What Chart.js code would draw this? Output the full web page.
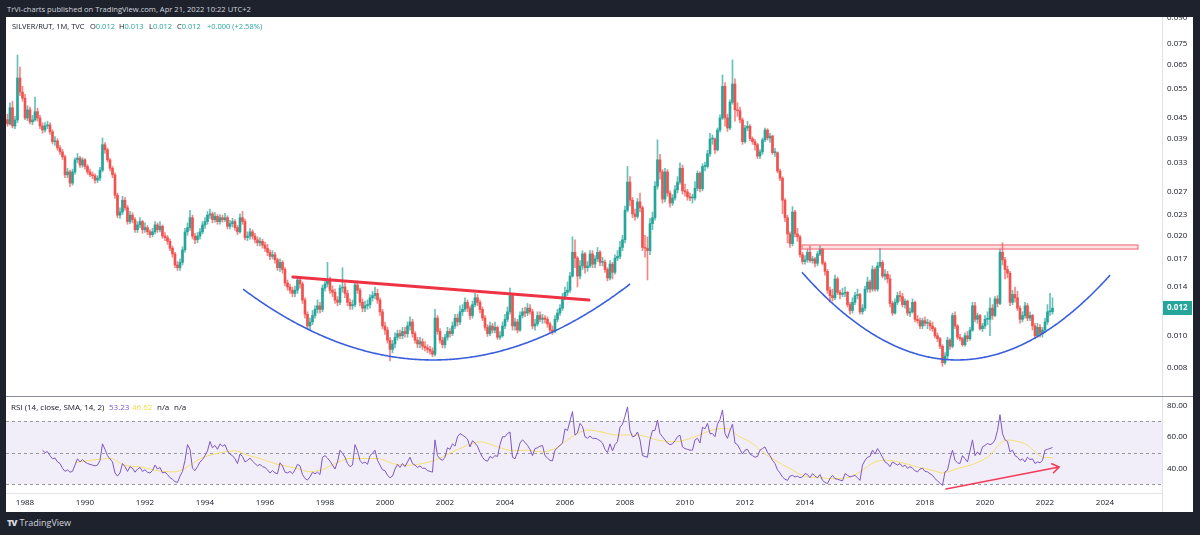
<!DOCTYPE html>
<html>
<head>
<meta charset="utf-8">
<title>SILVER/RUT, 1M</title>
<script src="https://cdn.jsdelivr.net/npm/chart.js@4.4.1/dist/chart.umd.min.js"></script>
<style>
  html, body { margin: 0; padding: 0; }
  body { width: 1200px; height: 535px; background: #1e222d; position: relative; overflow: hidden;
         font-family: "Open Sans", "Noto Sans", sans-serif; }
  .abs { position: absolute; white-space: nowrap; }
  #panel { left: 6px; top: 17px; width: 1187px; height: 495px; background: #fff; }
  #sep { left: 6px; top: 396px; width: 1187px; height: 1px; background: #8c8f99; }
  #head { left: 7px; top: 3px; font-size: 7.6px; line-height: 12px; color: #d1d4dc; }
  .leg { font-size: 7.5px; line-height: 12px; color: #131722; }
  .rleg { font-size: 8px; line-height: 12px; color: #131722; }
  .up { color: #26a69a; }
  .foot { left: 7px; top: 517px; font-size: 9px; line-height: 12px; color: #d1d4dc; }
  .foot b { font-weight: 800; margin-right: 3px; letter-spacing: -1px; }
</style>
</head>
<body>
<div id="panel" class="abs"></div>
<canvas id="cPrice" class="abs" width="1187" height="380" style="left:6px;top:17px"></canvas>
<canvas id="cRsi" class="abs" width="1187" height="115" style="left:6px;top:397px"></canvas>
<div id="sep" class="abs"></div>

<div id="head" class="abs">TrVi-charts published on TradingView.com, Apr 21, 2022 10:22 UTC+2</div>

<div class="abs leg" style="left:12px;top:20px">SILVER/RUT, 1M, TVC</div>
<div class="abs leg" style="left:90px;top:20px">O<span class="up">0.012</span></div>
<div class="abs leg" style="left:119px;top:20px">H<span class="up">0.013</span></div>
<div class="abs leg" style="left:149px;top:20px">L<span class="up">0.012</span></div>
<div class="abs leg" style="left:177px;top:20px">C<span class="up">0.012</span></div>
<div class="abs leg up" style="left:207px;top:20px">+0.000 (+2.58%)</div>

<div class="abs rleg" style="left:11px;top:401px">RSI (14, close, SMA, 14, 2)</div>
<div class="abs rleg" style="left:109px;top:401px;color:#7e57c2">53.23</div>
<div class="abs rleg" style="left:132px;top:401px;color:#f2d94e">46.62</div>
<div class="abs rleg" style="left:157px;top:401px">n/a</div>
<div class="abs rleg" style="left:174px;top:401px">n/a</div>

<div class="abs foot"><b>TV</b>TradingView</div>

<script>
// monthly SILVER/RUT candles, Jun 1987 .. Apr 2022, prices in units of 0.0001
const UNIT = 1e-4;
const firstOpen = 445;

const closes = [
  432, 483, 426, 444, 593, 538, 516,                                   // 1987 Jun-Dec
  450, 476, 438, 444, 470, 450, 426, 414, 426, 429, 409, 382,          // 1988
  384, 366, 356, 344, 304, 310, 287, 310, 337, 341, 325, 337,          // 1989
  322, 310, 304, 302, 293, 297, 314, 374, 361, 337, 318, 304,          // 1990
  264, 230, 235, 255, 242, 220, 230, 223, 208, 215, 220, 208,          // 1991
  211, 205, 201, 205, 215, 208, 213, 199, 197, 192, 183, 176,          // 1992
  163, 160, 166, 181, 205, 211, 226, 199, 194, 199, 205, 215,          // 1993
  220, 230, 232, 223, 228, 220, 226, 223, 226, 213, 217, 220,          // 1994
  211, 205, 226, 220, 197, 199, 205, 199, 194, 190, 192, 187,          // 1995
  183, 178, 173, 175, 169, 160, 166, 158, 144, 140, 137, 134,          // 1996
  137, 147, 143, 128, 116, 107, 110, 115, 120, 123, 120, 139,          // 1997
  143, 147, 137, 135, 128, 126, 139, 140, 134, 126, 123, 124,          // 1998
  142, 137, 126, 121, 123, 124, 130, 132, 134, 128, 118, 107,          // 1999
  104, 97, 91, 94.5, 99, 101.5, 100, 103, 101.5, 107, 110, 101.5,      // 2000
  97, 94.5, 96, 93, 92, 91, 90, 88, 113, 103, 97, 94,                  // 2001
  99, 103, 101.5, 107, 113, 110, 118, 120, 126, 121, 115, 124,         // 2002
  130, 126, 120, 113, 106, 101.5, 107, 104, 106, 99, 100, 107,         // 2003
  112, 118, 132, 107, 110, 104, 115, 118, 117, 121, 118, 107,          // 2004
  108.5, 115, 112, 113, 112, 108.5, 104, 103, 112, 117, 121, 130,      // 2005
  135, 137, 151, 178, 171, 151, 162, 176, 160, 162, 176, 164,          // 2006
  170, 178, 166, 166, 158, 149, 164, 155, 171, 173, 184, 194,          // 2007
  238, 289, 255, 232, 228, 252, 242, 184, 183, 180, 217, 226,          // 2008
  281, 337, 310, 257, 310, 268, 250, 259, 274, 289, 318, 272,          // 2009
  270, 261, 259, 259, 277, 307, 276, 322, 322, 351, 389, 389,          // 2010
  361, 414, 450, 560, 450, 420, 502, 569, 476, 473, 444, 382,          // 2011
  420, 425, 390, 382, 374, 346, 356, 387, 414, 392, 397, 354,          // 2012
  354, 312, 297, 255, 226, 202, 189, 235, 202, 198, 175, 167,          // 2013
  169, 178, 168, 170, 165, 176, 182, 165, 156, 137, 132, 130,          // 2014
  148, 135, 133, 134, 135, 124, 119, 126, 132, 133, 118, 121,          // 2015
  138, 145, 138, 158, 138, 162, 166, 151, 153, 148, 125, 117,          // 2016
  126, 132, 131, 124, 127, 117, 118, 126, 112, 111, 107, 111,          // 2017
  109, 109, 107, 105, 100, 98, 93, 83, 87, 97, 93, 115,                // 2018
  107, 99, 98, 94, 100, 98, 104, 123, 112, 115, 105, 107,              // 2019
  112, 112, 121, 115, 129, 125, 178, 169, 158, 154, 126, 133,          // 2020
  130, 121, 112, 115, 123, 113, 115, 107, 100, 106, 101.5, 104,        // 2021
  110, 118, 118, 121                                                   // 2022 Jan-Apr
];

const highs = [
  462, 500, 505, 455, 695, 640, 560,
  530, 490, 485, 458, 520, 482, 458, 435, 436, 440, 435, 415,
  396, 390, 372, 362, 348, 318, 314, 316, 342, 352, 345, 342,
  340, 326, 316, 310, 306, 302, 320, 392, 380, 366, 340, 322,
  308, 268, 242, 262, 260, 246, 236, 234, 226, 220, 226, 222,
  218, 214, 208, 210, 220, 218, 220, 215, 204, 200, 195, 186,
  178, 167, 170, 185, 210, 218, 238, 230, 203, 204, 210, 220,
  226, 236, 240, 235, 234, 231, 231, 230, 233, 229, 222, 225,
  223, 214, 232, 236, 224, 205, 210, 208, 203, 198, 197, 195,
  191, 188, 181, 180, 178, 171, 170, 168, 160, 147, 143, 140,
  141, 151, 150, 145, 130, 118, 113, 119, 123, 128, 126, 142,
  148, 166, 150, 141, 138, 131, 142, 160, 144, 137, 129, 128,
  146, 146, 139, 129, 127, 128, 133, 136, 140, 138, 130, 120,
  110, 106, 99, 97, 102, 104, 104, 106, 106, 110, 114, 112,
  103, 99, 99, 98, 96, 94, 93, 92, 120, 115, 105, 99,
  101, 106, 105, 110, 116, 116, 123, 124, 130, 128, 123, 127,
  134, 133, 128, 122, 115, 108, 110, 109, 110, 107, 103, 110,
  116, 122, 139, 134, 113, 112, 118, 121, 122, 125, 124, 120,
  112, 118, 118, 116, 115, 114, 110, 107, 115, 120, 124, 134,
  140, 145, 155, 198, 194, 173, 168, 180, 178, 167, 180, 180,
  174, 184, 180, 172, 169, 160, 168, 166, 175, 180, 192, 200,
  245, 322, 300, 260, 240, 258, 268, 245, 200, 198, 225, 235,
  290, 387, 350, 315, 318, 315, 272, 265, 282, 300, 330, 325,
  285, 275, 268, 266, 290, 312, 310, 328, 332, 360, 405, 400,
  392, 420, 460, 606, 575, 462, 510, 672, 590, 500, 485, 450,
  428, 440, 430, 395, 388, 378, 362, 392, 420, 418, 405, 400,
  365, 356, 316, 300, 258, 230, 205, 244, 238, 210, 200, 178,
  174, 182, 186, 173, 172, 179, 186, 183, 167, 158, 140, 138,
  152, 150, 137, 139, 140, 136, 126, 130, 135, 138, 134, 124,
  141, 150, 147, 162, 160, 166, 183, 168, 158, 156, 152, 127,
  129, 135, 136, 134, 129, 128, 121, 129, 127, 115, 113, 113,
  114, 112, 111, 110, 106, 102, 99, 94, 89, 99, 98, 117,
  118, 108, 101, 99, 102, 103, 106, 126, 126, 117, 116, 109,
  115, 118, 130, 124, 131, 132, 182, 190, 172, 162, 156, 137,
  140, 136, 123, 118, 126, 125, 118, 116, 109, 109, 108, 106,
  113, 124, 134, 130
];

const lows = [
  425, 428, 420, 418, 436, 525, 505,
  445, 442, 432, 430, 440, 440, 418, 405, 408, 418, 402, 376,
  372, 360, 350, 338, 298, 298, 280, 283, 305, 330, 320, 320,
  316, 305, 300, 296, 287, 288, 292, 310, 352, 332, 312, 298,
  258, 226, 225, 231, 238, 216, 217, 218, 204, 204, 211, 203,
  204, 201, 197, 198, 202, 204, 205, 196, 193, 188, 180, 172,
  160, 157, 157, 163, 178, 200, 207, 195, 189, 190, 195, 202,
  210, 216, 225, 218, 219, 216, 216, 219, 220, 209, 209, 212,
  207, 201, 203, 216, 194, 193, 195, 195, 190, 186, 186, 183,
  179, 174, 169, 170, 165, 157, 156, 154, 141, 137, 134, 131,
  131, 134, 139, 125, 113, 105, 104, 108, 113, 117, 117, 118,
  136, 140, 134, 131, 125, 123, 124, 135, 130, 123, 120, 120,
  122, 134, 123, 118, 118, 120, 121, 127, 129, 125, 115, 105,
  101, 95, 84, 89, 92, 97, 98, 98, 99, 99, 104, 99,
  95, 92, 92, 91, 90, 89, 88, 86.5, 87, 101, 95, 92,
  92, 97, 99, 100, 105, 107, 108, 115, 118, 118, 112, 113,
  122, 123, 117, 111, 104, 99.5, 100, 102, 102, 97.5, 97.5, 99,
  105, 110, 116, 104, 104, 102, 103, 113, 114, 115, 116, 105,
  104, 107, 110, 109, 109, 106, 102, 101, 102, 110, 115, 119,
  128, 132, 135, 150, 160, 140, 148, 158, 154, 156, 160, 160,
  160, 167, 162, 162, 155, 146, 147, 148, 153, 168, 170, 180,
  190, 235, 245, 226, 222, 225, 235, 180, 172, 147, 175, 208,
  222, 275, 295, 250, 252, 262, 243, 246, 255, 268, 285, 266,
  262, 255, 254, 250, 255, 272, 270, 272, 312, 318, 345, 375,
  352, 358, 408, 445, 425, 410, 415, 495, 440, 455, 435, 375,
  378, 412, 385, 375, 360, 340, 340, 350, 382, 386, 380, 350,
  345, 308, 292, 232, 220, 190, 184, 186, 198, 192, 172, 164,
  164, 166, 166, 165, 161, 162, 174, 163, 152, 134, 126, 127,
  128, 133, 129, 131, 131, 122, 116, 117, 124, 129, 116, 116,
  119, 135, 135, 136, 136, 136, 160, 149, 147, 144, 122, 115,
  116, 124, 127, 122, 121, 115, 114, 117, 110, 109, 105, 105,
  107, 105, 104, 103, 98.5, 96, 91.5, 81, 82, 85, 91, 92,
  105, 97.5, 96.5, 93, 93, 96, 97, 103, 110, 109, 104, 103,
  105, 108, 100, 112, 114, 122, 124, 163, 148, 149, 123, 124,
  126, 119, 109, 110, 113, 111, 111, 104, 98, 99, 99, 99,
  102, 108, 115, 116
];

// RSI(14) monthly, Aug 1988 .. Apr 2022
const rsiValues = [
  51.5, 50, 50.5, 48, 46,                                              // 1988 Aug-Dec
  46.5, 44, 43, 40, 38, 39, 37.5, 38, 42, 46, 44, 45.5,
  44, 43, 42.5, 42, 41.5, 42, 45, 55.5, 52, 48, 46, 44,
  37, 35, 37, 43, 41, 38, 41, 40, 37.5, 39.5, 40.5, 38,
  39, 37.5, 37, 38.5, 42, 39.5, 40.5, 37, 37.5, 36, 34, 33,
  31.5, 31, 35, 38, 45, 55, 52, 40, 38.5, 41, 44, 45.5,
  48, 51, 57, 53, 54.5, 52, 55.5, 54, 55, 51, 49, 48,
  46, 43, 49, 47.5, 44, 45, 46.5, 44.5, 43, 41.5, 42.5, 41,
  40.5, 39, 37, 38.5, 37, 36.5, 43.5, 41.5, 37.5, 37, 38, 36.5,
  39, 42.5, 41.5, 36, 33.5, 32.5, 34.5, 37.5, 36.5, 37.5, 36, 47,
  48, 46.5, 44.5, 42, 39.5, 44, 51.5, 49.5, 47, 43, 41, 42,
  55, 51, 45, 43, 44, 42.5, 48, 49.5, 51.5, 45, 42, 39,
  38.5, 35.5, 34, 35, 39.5, 42.5, 40.5, 43, 41, 44, 47, 43,
  42, 40.5, 41.5, 40, 40, 38.5, 38, 37.5, 58, 48, 46, 45,
  47, 53, 52, 55.5, 54, 60, 62, 61, 60, 58.5, 53.5, 57.5,
  56, 54, 50, 47, 45, 44.5, 47.5, 46.5, 48, 47.5, 55, 60,
  60, 62, 63, 47, 46, 50, 56, 58, 56.5, 54.5, 52, 48,
  52.5, 53, 54, 54.5, 48, 46.5, 45, 44.7, 51.5, 53, 54.5, 56,
  65, 64, 70, 76, 61, 62.5, 68.5, 66.5, 60, 59, 60.5, 59,
  59, 58.5, 57.5, 56, 52, 50, 55.5, 51, 55, 57, 66, 68,
  73, 79, 64, 60, 60.5, 63, 58, 48, 47.5, 47, 58, 64,
  64, 70.5, 62, 60, 58, 56, 55, 55.5, 57.5, 60, 61, 53.5,
  52.5, 52, 51.5, 51.5, 58, 59, 56, 66, 65, 68.5, 62, 62,
  60, 68, 71, 77, 62, 59, 64, 68, 56, 55, 52, 49,
  51.5, 52, 49, 48, 47, 47.5, 51.5, 52.5, 53.6, 50, 48, 45,
  43, 39, 37, 34.5, 33, 32.3, 35, 35.5, 34.5, 35, 34, 34.5,
  36.6, 36, 34, 36.6, 35, 34, 36, 32.3, 31, 30.2, 33.5, 35.5,
  33.4, 33, 32.5, 32, 36.6, 35.5, 34.5, 35, 35.5, 34, 32.3, 42,
  45, 47, 47.5, 51.5, 49, 52.5, 50, 47, 44, 43, 41, 44,
  43, 42, 43, 41, 42, 40, 41, 40, 38.5, 37.7, 39.5, 40,
  38, 37.7, 36.5, 35.5, 33.4, 32, 30.5, 29.1, 37.7, 38.7, 46, 51.5,
  45, 43.5, 43, 48, 46, 44, 51, 58, 48, 50.4, 48.5, 53.6,
  54.5, 55.7, 55, 55.7, 58, 64, 74, 62, 58, 57, 50.4, 51.5,
  48, 47, 45, 46, 44, 47, 45.5, 46, 43, 44, 43.5, 45,
  51.5, 52, 52.5, 53.23
];

// SMA(14) of RSI, read at these months
const smaDates = ['1989-09','1990-11','1991-05','1991-11','1992-05','1993-01','1993-06','1993-10','1994-03','1994-09',
  '1995-01','1995-06','1995-11','1996-05','1997-02','1997-07','1998-01','1998-05','1998-11','1999-06',
  '1999-10','2000-04','2000-10','2001-04','2001-09','2002-04','2002-12','2003-03','2003-10','2004-04',
  '2004-10','2005-04','2005-09','2006-01','2006-06','2006-10','2007-03','2007-10','2008-06','2009-02',
  '2009-09','2010-05','2010-12','2011-05','2011-11','2012-04','2012-08','2013-01','2013-07','2014-01',
  '2014-07','2015-01','2015-06','2015-11','2016-05','2016-10','2017-05','2017-11','2018-04','2018-08',
  '2019-02','2019-09','2020-03','2020-07','2020-10','2021-01','2021-06','2021-09','2021-12','2022-04'];
const smaValues = [43.6, 46.2, 41.9, 40.9, 38.7, 37.7, 40.9, 45.1, 48.3, 50.4,
  51.1, 48.3, 46.2, 43, 39.8, 37.7, 39.8, 43, 46.2, 46.2,
  46.2, 43, 41.9, 43, 45.1, 50.4, 55.7, 56.8, 53.6, 51.1,
  51.5, 50.4, 52.6, 56.8, 62.1, 64.3, 63.2, 61.1, 61.1, 57.9,
  56.8, 60, 64.3, 65.3, 60, 55.7, 50.4, 45.1, 39.8, 34.9,
  34, 33.4, 34, 37.7, 44, 45.1, 43, 40.4, 38.7, 37,
  39.8, 43, 48.3, 55.7, 57.9, 57.4, 54.7, 50.4, 47.2, 46.62];

const priceTicks = [0.008, 0.010, 0.014, 0.017, 0.020, 0.023, 0.027, 0.033, 0.039, 0.045, 0.055, 0.065, 0.075, 0.090];
const rsiTicks = [40, 60, 80];
const yearTicks = [1988, 1990, 1992, 1994, 1996, 1998, 2000, 2002, 2004, 2006, 2008, 2010,
  2012, 2014, 2016, 2018, 2020, 2022, 2024];

// hand drawings on the chart, in (time, price) / (time, rsi)
const neckline = [[1996.93, 0.0150], [2006.8, 0.0128]];
const cupLeft = { start: [1995.27, 0.0138], bottom: [2001.6, 0.00846], end: [2008.17, 0.0143] };
const cupRight = { start: [2013.9, 0.0155], bottom: [2019.07, 0.00846], end: [2024.17, 0.0152] };
const zone = { t0: 2013.9, t1: 2025.1, p0: 0.0182, p1: 0.01872 };
const rsiArrow = [[2018.7, 26.8], [2022.47, 40.8]];

const FONT = '"Open Sans", "Noto Sans", sans-serif';
const T_MIN = 1987.367, T_MAX = 2025.9;
const UP = '#26a69a', DOWN = '#ef5350';

const monthTime = (y0, m0, i) => y0 + (m0 + i) / 12;

const candles = closes.map((c, i) => {
  const o = i === 0 ? firstOpen : closes[i - 1];
  return {
    t: monthTime(1987, 5, i),
    o: o * UNIT, c: c * UNIT,
    h: Math.max(highs[i], o, c) * UNIT,
    l: Math.min(lows[i], o, c) * UNIT
  };
});

const px = (scale, v) => scale.getPixelForValue(v);

// keep the plot area flush with the canvas edges (no room kept for edge labels)
function noPadding(s) {
  s.paddingTop = 0;
  s.paddingBottom = 0;
  s.paddingLeft = 0;
  s.paddingRight = 0;
}

function drawCup(ctx, x, y, cup) {
  const x0 = px(x, cup.start[0]), y0 = px(y, cup.start[1]);
  const xv = px(x, cup.bottom[0]), yv = px(y, cup.bottom[1]);
  const x1 = px(x, cup.end[0]), y1 = px(y, cup.end[1]);
  const aL = (yv - y0) / Math.pow(x0 - xv, 2);
  const aR = (yv - y1) / Math.pow(x1 - xv, 2);
  ctx.beginPath();
  ctx.moveTo(x0, y0);
  for (let p = x0 + 1; p < x1; p += 1) {
    const a = p < xv ? aL : aR;
    ctx.lineTo(p, yv - a * Math.pow(p - xv, 2));
  }
  ctx.lineTo(x1, y1);
  ctx.stroke();
}

const drawingsPlugin = {
  id: 'drawings',
  afterDatasetsDraw(chart) {
    const { ctx, chartArea: a, scales: { x, y } } = chart;
    ctx.save();
    ctx.beginPath();
    ctx.rect(a.left, a.top, a.right - a.left, a.bottom - a.top);
    ctx.clip();

    // resistance zone
    const zx0 = px(x, zone.t0), zx1 = px(x, zone.t1);
    const zy0 = px(y, zone.p1), zy1 = px(y, zone.p0);
    ctx.fillStyle = 'rgba(242, 54, 69, 0.15)';
    ctx.fillRect(zx0, zy0, zx1 - zx0, zy1 - zy0);
    ctx.strokeStyle = '#f0616f';
    ctx.lineWidth = 1;
    ctx.strokeRect(zx0, zy0, zx1 - zx0, zy1 - zy0);

    // cups
    ctx.strokeStyle = '#3a5fdc';
    ctx.lineWidth = 1.6;
    drawCup(ctx, x, y, cupLeft);
    drawCup(ctx, x, y, cupRight);

    // neckline
    ctx.strokeStyle = '#ee3344';
    ctx.lineWidth = 3;
    ctx.lineCap = 'round';
    ctx.beginPath();
    ctx.moveTo(px(x, neckline[0][0]), px(y, neckline[0][1]));
    ctx.lineTo(px(x, neckline[1][0]), px(y, neckline[1][1]));
    ctx.stroke();
    ctx.restore();

    // last price tag on the axis
    const last = candles[candles.length - 1];
    const ly = Math.round(px(y, last.c));
    ctx.save();
    ctx.fillStyle = UP;
    ctx.fillRect(a.right + 1, ly - 7, 29, 14);
    ctx.fillStyle = '#ffffff';
    ctx.font = 'bold 8px ' + FONT;
    ctx.textBaseline = 'middle';
    ctx.fillText(last.c.toFixed(3), a.right + 5, ly);
    ctx.restore();
  }
};

const rsiPlugin = {
  id: 'rsiBand',
  beforeDatasetsDraw(chart) {
    const { ctx, chartArea: a, scales: { y } } = chart;
    const y70 = px(y, 70), y50 = px(y, 50), y30 = px(y, 30);
    ctx.save();
    ctx.fillStyle = 'rgba(126, 87, 194, 0.1)';
    ctx.fillRect(a.left, y70, a.right - a.left, y30 - y70);
    ctx.strokeStyle = '#9598a1';
    ctx.lineWidth = 1;
    ctx.setLineDash([3, 3]);
    [y70, y50, y30].forEach(v => {
      ctx.beginPath();
      ctx.moveTo(a.left, Math.round(v) + 0.5);
      ctx.lineTo(a.right, Math.round(v) + 0.5);
      ctx.stroke();
    });
    ctx.restore();
  },
  afterDatasetsDraw(chart) {
    const { ctx, scales: { x, y } } = chart;
    const x0 = px(x, rsiArrow[0][0]), y0 = px(y, rsiArrow[0][1]);
    const x1 = px(x, rsiArrow[1][0]), y1 = px(y, rsiArrow[1][1]);
    const ang = Math.atan2(y1 - y0, x1 - x0);
    ctx.save();
    ctx.strokeStyle = '#f23c5a';
    ctx.lineWidth = 1.6;
    ctx.lineCap = 'round';
    ctx.beginPath();
    ctx.moveTo(x0, y0);
    ctx.lineTo(x1, y1);
    ctx.moveTo(x1 - 8 * Math.cos(ang - 0.6), y1 - 8 * Math.sin(ang - 0.6));
    ctx.lineTo(x1, y1);
    ctx.lineTo(x1 - 8 * Math.cos(ang + 0.6), y1 - 8 * Math.sin(ang + 0.6));
    ctx.stroke();
    ctx.restore();
  },
  afterDraw(chart) {
    const { ctx, chartArea: a } = chart;
    ctx.save();
    ctx.fillStyle = '#e0e3eb';
    ctx.fillRect(Math.round(a.right), a.bottom, 1, chart.height - a.bottom);
    ctx.restore();
  }
};

const tickFont = { family: FONT, size: 8 };

new Chart(document.getElementById('cPrice'), {
  type: 'bar',
  data: {
    datasets: [
      {
        label: 'wicks',
        data: candles.map(k => ({ x: k.t, y: [k.l, k.h] })),
        backgroundColor: candles.map(k => k.c >= k.o ? 'rgba(38,166,154,0.7)' : 'rgba(239,83,80,0.7)'),
        barThickness: 1,
        grouped: false,
        order: 2
      },
      {
        label: 'bodies',
        data: candles.map(k => ({ x: k.t, y: [k.o, k.c] })),
        backgroundColor: candles.map(k => k.c >= k.o ? UP : DOWN),
        barThickness: 2,
        minBarLength: 1,
        grouped: false,
        order: 1
      }
    ]
  },
  options: {
    responsive: false,
    animation: false,
    events: [],
    layout: { padding: 0 },
    plugins: { legend: { display: false }, tooltip: { enabled: false } },
    scales: {
      x: { type: 'linear', min: T_MIN, max: T_MAX, offset: false, display: false },
      y: {
        type: 'logarithmic',
        position: 'right',
        min: 0.006551,
        max: 0.09038,
        bounds: 'data',
        afterBuildTicks: s => { s.ticks = priceTicks.map(v => ({ value: v })); },
        afterFit: s => { s.width = 31; noPadding(s); },
        grid: { display: false, drawTicks: false, tickLength: 0 },
        border: { display: true, color: '#e0e3eb' },
        ticks: { font: tickFont, color: '#131722', padding: 5, autoSkip: false,
                 callback: v => Number(v).toFixed(3) }
      }
    }
  },
  plugins: [drawingsPlugin]
});

new Chart(document.getElementById('cRsi'), {
  type: 'line',
  data: {
    datasets: [
      {
        label: 'RSI',
        data: rsiValues.map((v, i) => ({ x: monthTime(1988, 7, i), y: v })),
        borderColor: '#7e57c2',
        borderWidth: 1,
        pointRadius: 0,
        tension: 0,
        order: 1
      },
      {
        label: 'RSI-based MA',
        data: smaDates.map((d, i) => {
          const [yy, mm] = d.split('-').map(Number);
          return { x: yy + (mm - 1) / 12, y: smaValues[i] };
        }),
        borderColor: '#f3df72',
        borderWidth: 1,
        pointRadius: 0,
        cubicInterpolationMode: 'monotone',
        order: 2
      }
    ]
  },
  options: {
    responsive: false,
    animation: false,
    events: [],
    layout: { padding: 0 },
    plugins: { legend: { display: false }, tooltip: { enabled: false } },
    scales: {
      x: {
        type: 'linear', min: T_MIN, max: T_MAX, offset: false,
        afterBuildTicks: s => { s.ticks = yearTicks.map(v => ({ value: v })); },
        afterFit: s => { s.height = 19; noPadding(s); },
        grid: { display: false, drawTicks: false, tickLength: 0 },
        border: { display: true, color: '#e0e3eb' },
        ticks: { font: tickFont, color: '#131722', padding: 5, maxRotation: 0, autoSkip: false,
                 callback: v => String(v) }
      },
      y: {
        type: 'linear', position: 'right', min: 24.29, max: 85.24,
        afterBuildTicks: s => { s.ticks = rsiTicks.map(v => ({ value: v })); },
        afterFit: s => { s.width = 31; noPadding(s); },
        grid: { display: false, drawTicks: false, tickLength: 0 },
        border: { display: true, color: '#e0e3eb' },
        ticks: { font: tickFont, color: '#131722', padding: 5, autoSkip: false,
                 callback: v => Number(v).toFixed(2) }
      }
    }
  },
  plugins: [rsiPlugin]
});
</script>
</body>
</html>
